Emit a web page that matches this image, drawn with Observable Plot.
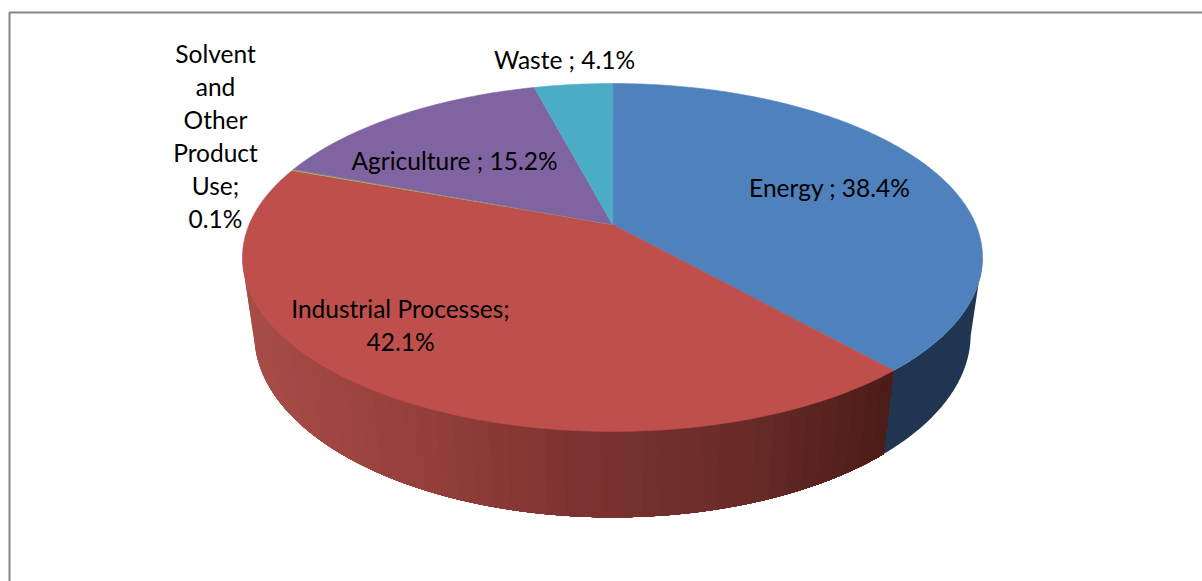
<!DOCTYPE html>
<html>
<head>
<meta charset="utf-8">
<script src="https://cdn.jsdelivr.net/npm/d3@7"></script>
<script src="https://cdn.jsdelivr.net/npm/@observablehq/plot@0.6"></script>
<style>
html,body{margin:0;padding:0;background:#fff;overflow:hidden}
svg{display:block}
</style>
</head>
<body>
<div id="chart"></div>
<script>
const categories = ["Energy", "Industrial Processes", "Solvent and Other Product Use", "Agriculture", "Waste"];
const shares = [38.4, 42.1, 0.1, 15.2, 4.1];
const labelTexts = ["Energy ; 38.4%", "Industrial Processes;\n42.1%", "Solvent\nand\nOther\nProduct\nUse;\n0.1%", "Agriculture ; 15.2%", "Waste ; 4.1%"];
const topColors = ["#4F81BD", "#BE4F4C", "#9BBB59", "#8064A2", "#4BACC6"];

// Perspective of the disc, in pixels from the pie's apex
const persp = {A: 363.3, B: 167.7, k: 0.1896, C: 79, m: 0.032};
const project = (t, h) => {
  const X = Math.sin(t), Y = -Math.cos(t), w = 1 - persp.k * Y + persp.m * h;
  return {x: persp.A * X / w, y: (persp.B * Y + persp.C * h) / w};
};

const total = d3.sum(shares);
let acc = 0;
const slices = categories.map((c, i) => {
  const a0 = acc / total * 2 * Math.PI;
  acc += shares[i];
  return {c, i, a0, a1: acc / total * 2 * Math.PI};
});

// top faces
const topPts = slices.flatMap(s => {
  const n = Math.max(2, Math.ceil((s.a1 - s.a0) / 0.01));
  const pts = [{c: s.c, fill: topColors[s.i], x: 0, y: 0}];
  for (let j = 0; j <= n; j++) {
    pts.push({c: s.c, fill: topColors[s.i], ...project(s.a0 + (s.a1 - s.a0) * j / n, 0)});
  }
  return pts;
});

// side wall: a band between two angles, top edge then bottom edge reversed
const band = (a, b, id, f) => {
  const n = Math.max(1, Math.ceil(Math.abs(b - a) / 0.01));
  const ts = d3.range(n + 1).map(j => a + (b - a) * j / n);
  return [...ts.map(t => project(t, 0)), ...ts.reverse().map(t => project(t, 1))].map(q => ({id, f, ...q}));
};
const silR = 101 * Math.PI / 180, silL = 259 * Math.PI / 180;
const energyEnd = slices[0].a1;
const redStops = ["#A84C48", "#96403B", "#7C3230", "#6A2C29", "#4A1B18"];
const redColor = d3.piecewise(d3.interpolateRgb, redStops);
const sideBlue = "#1F3552";
const xL = project(silL, 1).x, xE = project(energyEnd, 1).x;
const stripCount = 48;
const strips = band(silR, energyEnd, "blue", sideBlue);
for (let j = 0; j < stripCount; j++) {
  // later strips overpaint the rest of the wall, so no seams show
  const t0 = silL + (energyEnd - silL) * j / stripCount;
  const px = project(t0, 1).x;
  strips.push(...band(t0, energyEnd, "red" + j, redColor((px - xL) / (xE - xL))));
}

// label anchors in the same frame as the pie
const labelAt = [[217, -38.5], [-212, 99.5], [-397, -89.5], [-158, -65], [-48, -166]];
const labels = labelTexts.map((text, i) => ({text, x: labelAt[i][0], y: labelAt[i][1]}));

// chart frame: left and top edges only are inside the picture
const frame = [{x: -603, y: 357}, {x: -603, y: -212}, {x: 590, y: -212}];

const plot = Plot.plot({
  width: 1202,
  height: 581,
  margin: 0,
  x: {domain: [-612, 590], axis: null},
  y: {domain: [357, -224], axis: null},
  style: {background: "#fff"},
  marks: [
    Plot.line(strips, {x: "x", y: "y", z: "id", fill: "f", stroke: "none", curve: "linear-closed"}),
    Plot.line(topPts, {x: "x", y: "y", z: "c", fill: "fill", stroke: "fill", strokeWidth: 0.6, curve: "linear-closed"}),
    Plot.text(labels, {x: "x", y: "y", text: "text", fill: "#000", fontFamily: "Lato", fontSize: 24.5, lineHeight: 1.345, textAnchor: "middle", lineAnchor: "middle"}),
    Plot.line(frame, {x: "x", y: "y", stroke: "#868686", strokeWidth: 2, strokeLinejoin: "miter"})
  ]
});
document.getElementById("chart").appendChild(plot);
</script>
</body>
</html>
